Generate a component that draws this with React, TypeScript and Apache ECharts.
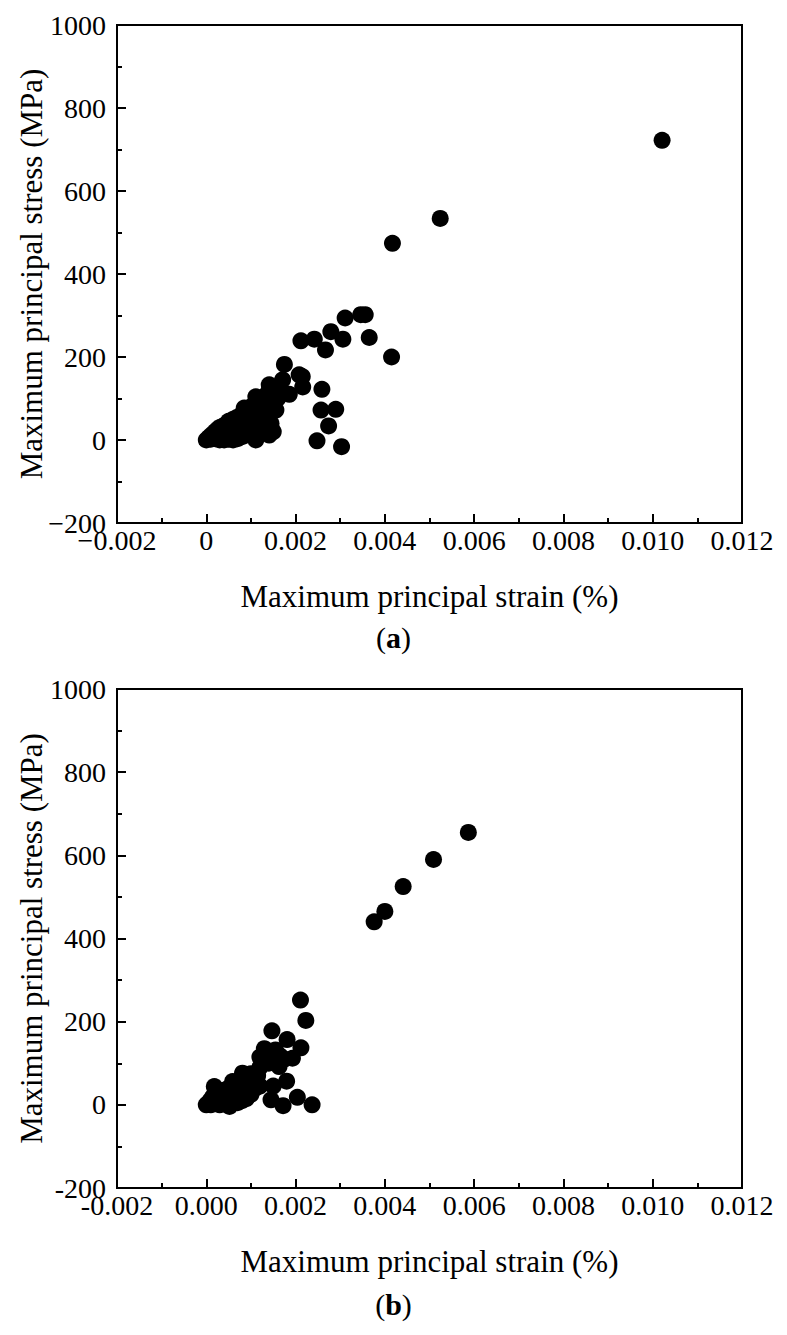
import React, { useEffect, useRef } from "react";
import * as echarts from "echarts";

// Panel (a): maximum principal strain (%) vs maximum principal stress (MPa)
const strainA: number[] = [
  0.01021, 0.00524, 0.00417, 0.00415, 0.00365, 0.00346, 0.00356, 0.00311, 0.00279, 0.00306,
  0.00242, 0.00212, 0.00267, 0.00175, 0.00259, 0.00257, 0.0029, 0.00274, 0.00248, 0.00303,
  0.00208, 0.00215, 0.00216, 0.00186, 0.00171, 0.00141, 0.00111, 0.00085, 0.00156, 0.00141,
  0.00111, 0.0, 0.00005, 0.0001, 0.0001, 0.00015, 0.0002, 0.0002, 0.00025, 0.00025,
  0.0003, 0.0003, 0.0003, 0.00035, 0.00035, 0.0004, 0.0004, 0.0004, 0.00045, 0.0005,
  0.0005, 0.0005, 0.00055, 0.00055, 0.0006, 0.0006, 0.0006, 0.00065, 0.00065, 0.0007,
  0.0007, 0.0007, 0.00075, 0.00075, 0.0008, 0.0008, 0.0008, 0.00085, 0.00085, 0.0009,
  0.0009, 0.0009, 0.00095, 0.001, 0.001, 0.001, 0.00105, 0.0011, 0.0011, 0.00115,
  0.0012, 0.0012, 0.0012, 0.00125, 0.0013, 0.0013, 0.00135, 0.0014, 0.0014, 0.0015,
  0.0015, 0.0016, 0.00165, 0.0015, 0.00145, 0.0013,
];
const stressA: number[] = [
  722, 534, 474, 200, 247, 302, 302, 294, 261, 243,
  243, 239, 217, 182, 122, 72, 74, 34, -2, -16,
  157, 153, 128, 110, 145, 133, 104, 77, 72, 12,
  0, 0, 5, 2, 10, 15, 3, 20, 8, 25,
  0, 15, 30, 5, 22, 0, 12, 35, 28, 2,
  18, 45, 8, 35, 0, 25, 50, 12, 40, 3,
  30, 55, 20, 48, 8, 38, 62, 25, 55, 12,
  45, 70, 35, 20, 55, 80, 65, 40, 90, 75,
  30, 60, 100, 85, 50, 105, 95, 70, 118, 80,
  125, 100, 120, 20, 40, 25,
];

// Panel (b)
const strainB: number[] = [
  0.00587, 0.00509, 0.00441, 0.004, 0.00376, 0.00211, 0.00223, 0.00147, 0.00181, 0.00212,
  0.0013, 0.00193, 0.00163, 0.0013, 0.0018, 0.00204, 0.00237, 0.00172, 0.00145, 0.00081,
  0.00059, 0.00052, 0.00018, 0.00155, 0.00165, 0.0014, 0.00175, 0.00115, 0.0012, 0.0,
  0.00005, 0.0001, 0.0001, 0.00015, 0.0002, 0.0002, 0.00025, 0.0003, 0.0003, 0.00035,
  0.0004, 0.0004, 0.00045, 0.0005, 0.0005, 0.00055, 0.0006, 0.0006, 0.00065, 0.0007,
  0.0007, 0.0007, 0.00075, 0.0008, 0.0008, 0.0008, 0.00085, 0.0009, 0.0009, 0.00095,
  0.001, 0.001, 0.001, 0.0011, 0.0011, 0.0012, 0.0012, 0.0013, 0.00135, 0.0015,
];
const stressB: number[] = [
  655, 590, 525, 465, 440, 252, 203, 178, 157, 137,
  135, 112, 92, 104, 57, 18, 0, -2, 12, 76,
  56, -4, 44, 132, 118, 100, 110, 70, 45, 0,
  5, 12, 0, 20, 5, 28, 15, 0, 30, 10,
  25, 35, 5, 20, 40, 10, 30, 50, 15, 40,
  55, 5, 25, 60, 45, 10, 70, 35, 15, 65,
  50, 75, 25, 60, 40, 90, 115, 100, 110, 45,
];

const xTicksInterval = 0.002;
const yTicksInterval = 200;

const FONT = "Liberation Serif";

function fmtX(v: number, minus: string, zeroAsInt: boolean): string {
  if (Math.abs(v) < 1e-12) return zeroAsInt ? "0" : "0.000";
  if (v < 0) return minus + (-v).toFixed(3);
  return v.toFixed(3);
}
function fmtY(v: number, minus: string): string {
  const r = Math.round(v);
  if (r < 0) return minus + String(-r);
  return String(r);
}

export default function App() {
  const ref = useRef<HTMLDivElement>(null);
  useEffect(() => {
    if (!ref.current) return;
    const chart = echarts.init(ref.current, undefined, { renderer: "svg" });
    const axisLine = { show: true, onZero: false, lineStyle: { color: "#000", width: 2 } };
    const mkX = (gridIndex: number, minus: string, zeroInt: boolean) => ({
      type: "value",
      gridIndex,
      min: -0.002,
      max: 0.012,
      interval: xTicksInterval,
      name: "Maximum principal strain (%)",
      nameLocation: "middle",
      nameGap: 58,
      nameMoveOverlap: false,
      nameTextStyle: { fontFamily: FONT, fontSize: 31, color: "#000" },
      axisLine,
      axisTick: { show: true, inside: true, length: 9, lineStyle: { color: "#000", width: 2 } },
      minorTick: { show: true, splitNumber: 2, length: 5, lineStyle: { color: "#000", width: 2 } },
      splitLine: { show: false },
      axisLabel: {
        fontFamily: FONT,
        fontSize: 28,
        lineHeight: 18,
        color: "#000",
        margin: 8,
        formatter: (v: number) => fmtX(v, minus, zeroInt),
      },
    });
    const mkY = (gridIndex: number, minus: string) => ({
      type: "value",
      gridIndex,
      min: -200,
      max: 1000,
      interval: yTicksInterval,
      name: "Maximum principal stress (MPa)",
      nameLocation: "middle",
      nameGap: 70,
      nameMoveOverlap: false,
      nameRotate: 90,
      nameTextStyle: { fontFamily: FONT, fontSize: 31, color: "#000" },
      axisLine,
      axisTick: { show: true, inside: true, length: 9, lineStyle: { color: "#000", width: 2 } },
      minorTick: { show: true, splitNumber: 2, length: 5, lineStyle: { color: "#000", width: 2 } },
      splitLine: { show: false },
      axisLabel: {
        fontFamily: FONT,
        fontSize: 28,
        lineHeight: 16,
        color: "#000",
        margin: 11,
        formatter: (v: number) => fmtY(v, minus),
      },
    });
    const option = {
      animation: false,
      backgroundColor: "#fff",
      grid: [
        { left: 117, right: 45, top: 25, height: 498, show: true, borderColor: "#000", borderWidth: 2, backgroundColor: "transparent" },
        { left: 117, right: 45, top: 689, height: 499, show: true, borderColor: "#000", borderWidth: 2, backgroundColor: "transparent" },
      ],
      xAxis: [mkX(0, "\u2212", true), mkX(1, "-", false)],
      yAxis: [mkY(0, "\u2212"), mkY(1, "-")],
      series: [
        {
          type: "scatter",
          xAxisIndex: 0,
          yAxisIndex: 0,
          symbol: "circle",
          symbolSize: 17,
          itemStyle: { color: "#000", opacity: 1 },
          data: strainA.map((x, i) => [x, stressA[i]]),
        },
        {
          type: "scatter",
          xAxisIndex: 1,
          yAxisIndex: 1,
          symbol: "circle",
          symbolSize: 17,
          itemStyle: { color: "#000", opacity: 1 },
          data: strainB.map((x, i) => [x, stressB[i]]),
        },
      ],
      graphic: [
        {
          type: "text",
          left: "center",
          top: 622,
          style: {
            text: "({a|a})",
            fontFamily: FONT,
            fontSize: 30,
            fill: "#000",
            rich: { a: { fontFamily: FONT, fontSize: 30, fontWeight: "bold", fill: "#000" } },
          },
        },
        {
          type: "text",
          left: "center",
          top: 1289,
          style: {
            text: "({b|b})",
            fontFamily: FONT,
            fontSize: 30,
            fill: "#000",
            rich: { b: { fontFamily: FONT, fontSize: 30, fontWeight: "bold", fill: "#000" } },
          },
        },
      ],
    };
    chart.setOption(option as any);
    return () => chart.dispose();
  }, []);
  return (
    <div
      ref={ref}
      style={{ position: "fixed", left: 0, top: 0, width: 787, height: 1335, background: "#fff" }}
    />
  );
}
